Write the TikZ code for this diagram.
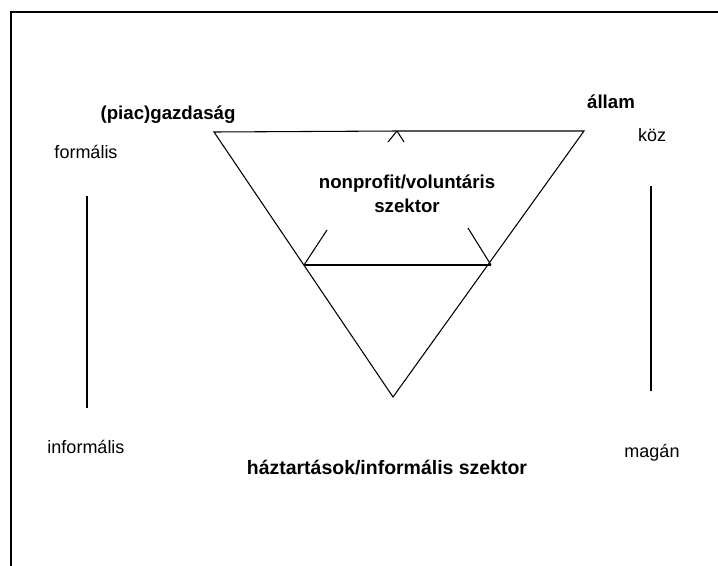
\documentclass[tikz,border=0pt]{standalone}
\usepackage{fontspec}
\setmainfont{Liberation Sans}
\usepackage{tikz}
\usetikzlibrary{positioning}

\begin{document}
\begin{tikzpicture}[x=0.75pt, y=-0.75pt,
    lbl/.style={font=\fontsize{13.5}{16}\selectfont, inner sep=0pt},
    sector/.style={font=\bfseries\fontsize{14}{18}\selectfont, inner sep=0pt, align=center},
    line/.style={draw, black, line width=0.8pt},
    frame/.style={draw, black, line width=2.2pt}
]
    \useasboundingbox (0,0) rectangle (718,565);
    \path[frame] (11,600) -- (11,12) -- (740,12);

    % triangle
    \coordinate (tl) at (214,132);
    \coordinate (tr) at (584,131);
    \coordinate (bot) at (393,397);
    \coordinate (apex) at (397,131);
    \coordinate (ml) at (304,265);
    \coordinate (mr) at (491,265);

    \node[sector] (market) at (168,115) {(piac)gazdaság};
    \node[sector] (state) at (611,102) {állam};
    \node[sector] (nonprofit) at (407,194) {nonprofit/voluntáris\\szektor};
    \node[sector, font=\bfseries\fontsize{14.6}{18}\selectfont] (house) at (387,468) {háztartások/informális szektor};

    \node[lbl] (formal) at (86,152) {formális};
    \node[lbl] (informal) at (86,447) {informális};
    \node[lbl] (public) at (652,135) {köz};
    \node[lbl] (private) at (652,453) {magán};

    \path[line] (tl) -- (apex) -- (tr) -- (bot) -- cycle;
    \path[line] (ml) -- (mr);
    \path[line] (ml) -- ++(23,-35);
    \path[line] (mr) -- ++(-23,-37);
    \path[line] (apex) -- ++(-9,11);
    \path[line] (apex) -- ++(7,11);

    % axes
    \coordinate (fa) at (87,196);
    \coordinate (fb) at (87,408);
    \coordinate (pa) at (651,186);
    \coordinate (pb) at (651,391);
    \path[line] (fa) -- (fb);
    \path[line] (pa) -- (pb);
\end{tikzpicture}
\end{document}
